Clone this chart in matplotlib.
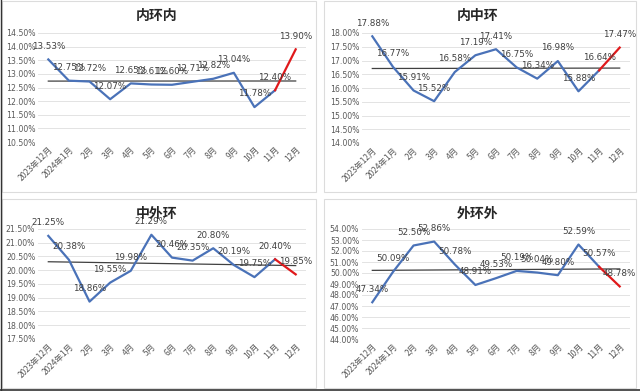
import numpy as np
import matplotlib
matplotlib.use('Agg')
import matplotlib.pyplot as plt
from matplotlib.patches import Rectangle
from matplotlib.lines import Line2D

plt.rcParams['font.family'] = ['Noto Sans CJK SC', 'DejaVu Sans']

months = ['2023年12月', '2024年1月', '2月', '3月', '4月', '5月', '6月',
          '7月', '8月', '9月', '10月', '11月', '12月']

nei_huan_nei = [13.53, 12.75, 12.72, 12.07, 12.65, 12.61, 12.60, 12.71, 12.82, 13.04, 11.78, 12.40, 13.90]
nei_zhong_huan = [17.88, 16.77, 15.91, 15.52, 16.58, 17.19, 17.41, 16.75, 16.34, 16.98, 15.88, 16.64, 17.47]
zhong_wai_huan = [21.25, 20.38, 18.86, 19.55, 19.98, 21.29, 20.46, 20.35, 20.80, 20.19, 19.75, 20.40, 19.85]
wai_huan_wai = [47.34, 50.09, 52.50, 52.86, 50.78, 48.91, 49.53, 50.19, 50.04, 49.80, 52.59, 50.57, 48.78]

panels = [
    ('内环内', nei_huan_nei, np.arange(10.5, 14.51, 0.5)),
    ('内中环', nei_zhong_huan, np.arange(14.0, 18.01, 0.5)),
    ('中外环', zhong_wai_huan, np.arange(17.5, 21.51, 0.5)),
    ('外环外', wai_huan_wai, np.arange(44.0, 54.01, 1.0)),
]

W, H = 640, 391
fig = plt.figure(figsize=(6.4, 3.91), dpi=100)
fig.patch.set_facecolor('white')

# panel boxes (pixel coords, top-left origin)
boxes = [(2, 1, 316, 192), (324, 1, 636, 192), (2, 199, 316, 388), (324, 199, 636, 388)]
# plot areas
areas = [(38, 33, 306, 142), (362, 33, 630, 143), (38, 229, 306, 339), (362, 229, 630, 339)]

blue = '#4a72b8'
red = '#e0191b'

for (title, vals, ticks), box, area in zip(panels, boxes, areas):
    x0, y0, x1, y1 = box
    fig.patches.append(Rectangle((x0 / W, 1 - y1 / H), (x1 - x0) / W, (y1 - y0) / H,
                                 transform=fig.transFigure, facecolor='white',
                                 edgecolor='#dcdcdc', linewidth=0.8, zorder=-10))
    ax0, ay0, ax1, ay1 = area
    ax = fig.add_axes([ax0 / W, 1 - ay1 / H, (ax1 - ax0) / W, (ay1 - ay0) / H])
    ax.set_facecolor('none')
    x = np.arange(len(vals))
    ax.plot(x[:12], vals[:12], color=blue, lw=1.6, zorder=3)
    ax.plot(x[11:], vals[11:], color=red, lw=1.6, zorder=3)
    k, b = np.polyfit(x, vals, 1)
    ax.plot([0, 12], [b, b + 12 * k], color='#404040', lw=0.9, zorder=2)
    for xi, v in zip(x, vals):
        ax.annotate(f'{v:.2f}%', (xi, v), xytext=(0, 9.5), textcoords='offset points',
                    ha='center', va='center', fontsize=6.3, color='#404040',
                    family='DejaVu Sans', zorder=4)
    ax.set_xlim(-0.5, 12.5)
    ax.set_ylim(ticks[0], ticks[-1])
    ax.set_yticks(ticks)
    ax.set_yticklabels([f'{t:.2f}%' for t in ticks], fontsize=5.6, color='#595959',
                       family='DejaVu Sans')
    ax.set_xticks(x)
    ax.set_xticklabels(months, fontsize=6, color='#595959', rotation=45,
                       ha='right', rotation_mode='anchor')
    ax.tick_params(length=0, pad=2)
    ax.grid(axis='y', color='#e3e3e3', lw=0.7)
    ax.set_axisbelow(True)
    for s in ax.spines.values():
        s.set_visible(False)
    fig.text(((x0 + x1) / 2 - 2) / W, 1 - (y0 + 15) / H, title, ha='center', va='center',
             fontsize=10, fontweight='bold', color='#262626')

# dark screenshot edge on left and bottom
fig.lines.append(Line2D([0.5 / W, 0.5 / W], [0, 1], transform=fig.transFigure,
                        color='#333333', lw=1))
fig.lines.append(Line2D([0, 1], [1.5 / H, 1.5 / H], transform=fig.transFigure,
                        color='#333333', lw=1.2))

fig.savefig('out.png', dpi=100)
